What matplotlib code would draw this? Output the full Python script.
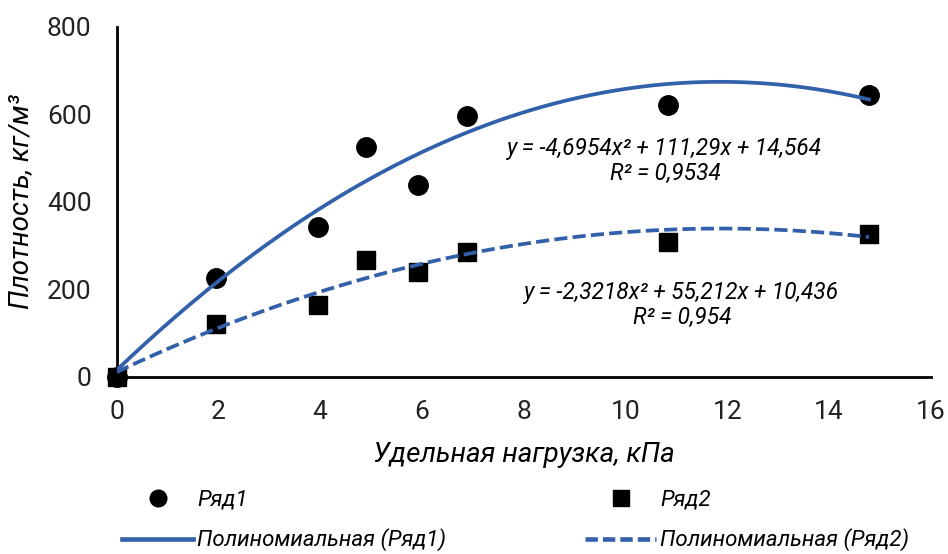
"""
Плотность vs удельная нагрузка, two series with quadratic trend lines.
Output: out.png (948x554)
"""
import matplotlib
matplotlib.use("Agg")
import matplotlib.pyplot as plt
import numpy as np
from matplotlib.lines import Line2D

# --- data ------------------------------------------------------------------
LOAD_KPA   = [0.0, 1.95, 3.95, 4.9, 5.92, 6.88, 10.84, 14.78]
DENSITY_1  = [0, 225, 343, 525, 439, 597, 621, 644]
DENSITY_2  = [0, 121, 164, 267, 239, 286, 307, 326]
COEF_1     = [-4.6954, 111.29, 14.564]   # Excel trendline, Ряд1
COEF_2     = [-2.3218, 55.212, 10.436]   # Excel trendline, Ряд2
EQ_TEXT_1  = ["y = -4,6954x\u00b2 + 111,29x + 14,564", "R\u00b2 = 0,9534"]
EQ_TEXT_2  = ["y = -2,3218x\u00b2 + 55,212x + 10,436", "R\u00b2 = 0,954"]
XTICKS     = [0, 2, 4, 6, 8, 10, 12, 14, 16]
YTICKS     = [0, 200, 400, 600, 800]

BLUE   = "#3260aa"
DASHES = (0, (3.5, 1.4))
plt.rcParams.update({
    "font.family": ["Roboto", "DejaVu Sans"],
    "font.size": 15,
})

W, H = 948, 554
fig = plt.figure(figsize=(W / 100, H / 100), dpi=100)
ax = fig.add_axes([116.5 / W, 1 - 376.7 / H, (931 - 116.5) / W, (376.7 - 26.7) / H])

ax.plot(LOAD_KPA, DENSITY_1, "o", color="black", ms=14, clip_on=False, zorder=3)
ax.plot(LOAD_KPA, DENSITY_2, "s", color="black", ms=13.5, clip_on=False, zorder=3)

xs = np.linspace(min(LOAD_KPA), max(LOAD_KPA), 200)
ax.plot(xs, np.polyval(COEF_1, xs), color=BLUE, lw=2.7, zorder=4)
ax.plot(xs, np.polyval(COEF_2, xs), color=BLUE, lw=2.7, ls=DASHES, zorder=4)

ax.set_xlim(0, 16)
ax.set_ylim(0, 800)
ax.set_xticks(XTICKS)
ax.set_yticks(YTICKS)
ax.tick_params(length=0, labelsize=19, colors="#222222")
ax.tick_params(axis="x", pad=17)
ax.tick_params(axis="y", pad=18)
for s in ("top", "right"):
    ax.spines[s].set_visible(False)
for s in ("left", "bottom"):
    ax.spines[s].set_linewidth(2.0)
    ax.spines[s].set_color("black")

ax.set_xlabel("Удельная нагрузка, кПа", fontsize=20, style="italic", labelpad=13)
ax.set_ylabel("Плотность, кг/м\u00b3", fontsize=20, style="italic", labelpad=9)

# trendline equations, as Excel places them
eq_kw = dict(transform=fig.transFigure, ha="center", va="center",
             style="italic", fontsize=16.3)
fig.text(665 / W, 1 - 148 / H, EQ_TEXT_1[0], **eq_kw)
fig.text(665 / W, 1 - 173 / H, EQ_TEXT_1[1], **eq_kw)
fig.text(682 / W, 1 - 292 / H, EQ_TEXT_2[0], **eq_kw)
fig.text(682 / W, 1 - 317 / H, EQ_TEXT_2[1], **eq_kw)

# legend: four separate entries placed like the Excel legend
LEG_FS = 16
hl = 71 / (LEG_FS * 100 / 72)
tp = 4 / (LEG_FS * 100 / 72)
entries = [
    (Line2D([], [], ls="none", marker="o", color="black", ms=12), "Ряд1", 122, 500),
    (Line2D([], [], ls="none", marker="s", color="black", ms=11), "Ряд2", 585, 500),
    (Line2D([], [], color=BLUE, lw=3.3), "Полиномиальная (Ряд1)", 122, 540),
    (Line2D([], [], color=BLUE, lw=3.3, ls=(0, (2.7, 1.1))), "Полиномиальная (Ряд2)", 585, 540),
]
for handle, label, px, py in entries:
    fig.legend([handle], [label], loc="center left",
               bbox_to_anchor=(px / W, 1 - py / H), frameon=False,
               borderpad=0, borderaxespad=0, handlelength=hl,
               handletextpad=tp, prop={"style": "italic", "size": LEG_FS})

fig.savefig("out.png", dpi=100)
